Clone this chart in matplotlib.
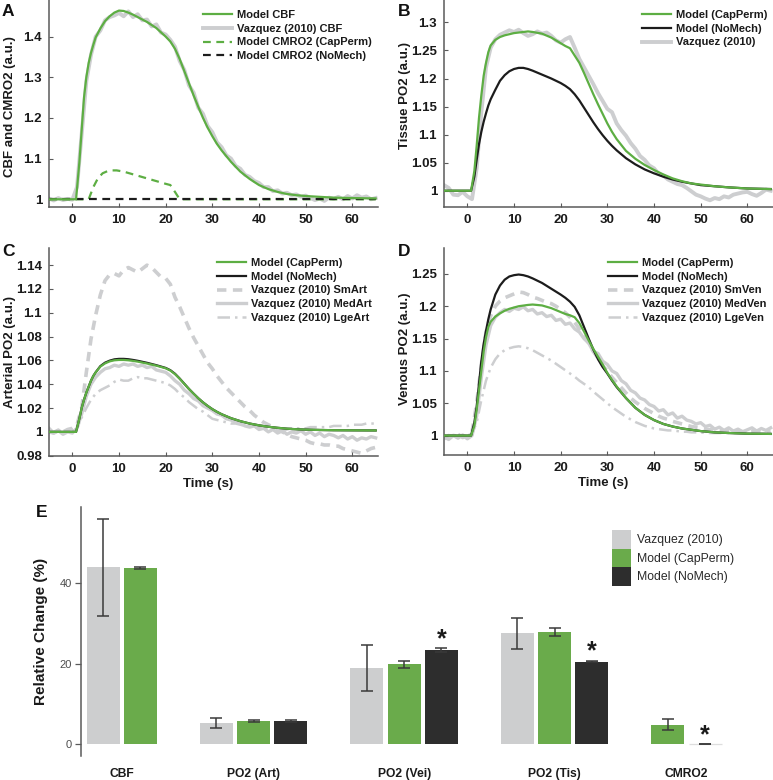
"""Recreate the CBF / PO2 time-course panels (A-D) and the relative-change bars (E)."""
import matplotlib

matplotlib.use("Agg")  # headless
import matplotlib.pyplot as plt
import numpy as np
from matplotlib.patches import Patch
from matplotlib.ticker import FuncFormatter

# --------------------------------------------------------------------------- #
# Data
# --------------------------------------------------------------------------- #
# shared time grid for the smooth model curves (s)
t_model = [-5, 0, 0.8, 1.5, 2, 2.5, 3, 3.5, 4, 4.5, 5, 6, 7, 8, 9, 10, 11, 12, 13, 14,
           16, 18, 20, 21, 22, 23, 24, 25, 26, 27, 28, 29, 30, 31, 32, 34, 36, 38, 40,
           42, 44, 46, 48, 50, 53, 56, 60, 65]
# 1 s grid for the measured (Vazquez 2010) traces
t_data = list(range(-5, 66))

# Panel A
cbf_model = [1.0, 1.0, 1.0, 1.09, 1.17, 1.25, 1.30, 1.335, 1.36, 1.38, 1.398, 1.42, 1.438,
             1.45, 1.459, 1.464, 1.463, 1.459, 1.454, 1.448, 1.436, 1.421, 1.400, 1.388,
             1.37, 1.345, 1.315, 1.285, 1.255, 1.227, 1.200, 1.176, 1.155, 1.136, 1.12,
             1.092, 1.068, 1.05, 1.035, 1.025, 1.018, 1.013, 1.010, 1.008, 1.006, 1.004,
             1.003, 1.002]
cbf_vazquez = [1.002, 0.997, 1.003, 0.998, 1.001, 0.999, 1.03, 1.16, 1.29, 1.355, 1.40,
               1.415, 1.44, 1.448, 1.452, 1.458, 1.45, 1.462, 1.448, 1.455, 1.44, 1.442,
               1.425, 1.43, 1.41, 1.405, 1.392, 1.375, 1.34, 1.318, 1.28, 1.262, 1.225,
               1.21, 1.18, 1.165, 1.14, 1.128, 1.108, 1.10, 1.082, 1.075, 1.06, 1.055,
               1.045, 1.04, 1.03, 1.03, 1.02, 1.022, 1.014, 1.016, 1.01, 1.012, 1.006,
               1.009, 1.003, 0.998, 1.002, 0.996, 1.004, 1.001, 1.006, 1.0, 1.008, 1.002,
               1.01, 1.004, 1.007, 1.0, 1.003]
t_cmro2 = [-5, 3.5, 4.5, 5.5, 6.5, 7.5, 8.5, 9.5, 11, 14, 17, 20, 21, 22, 23, 65]
cmro2_capperm = [1.0, 1.0, 1.03, 1.052, 1.064, 1.069, 1.071, 1.071, 1.068, 1.058, 1.048,
                 1.038, 1.035, 1.018, 1.0, 1.0]
t_cmro2_nomech = [-5, 65]
cmro2_nomech = [1.0, 1.0]

# Panel B (tissue PO2)
tis_capperm = [1.0, 1.0, 1.0, 1.035, 1.08, 1.13, 1.17, 1.205, 1.228, 1.247, 1.259, 1.269,
               1.274, 1.277, 1.279, 1.281, 1.282, 1.283, 1.284, 1.283, 1.280, 1.273, 1.263,
               1.258, 1.254, 1.241, 1.228, 1.210, 1.191, 1.172, 1.154, 1.137, 1.120, 1.105,
               1.092, 1.071, 1.057, 1.046, 1.037, 1.029, 1.022, 1.017, 1.013, 1.011, 1.008,
               1.006, 1.004, 1.003]
tis_nomech = [1.0, 1.0, 1.0, 1.025, 1.055, 1.083, 1.105, 1.123, 1.138, 1.152, 1.163, 1.18,
              1.196, 1.206, 1.213, 1.217, 1.219, 1.219, 1.217, 1.214, 1.207, 1.200, 1.192,
              1.187, 1.181, 1.172, 1.161, 1.148, 1.135, 1.122, 1.110, 1.099, 1.089, 1.080,
              1.072, 1.058, 1.047, 1.038, 1.031, 1.025, 1.020, 1.016, 1.013, 1.010, 1.008,
              1.006, 1.004, 1.003]
tis_vazquez = [1.01, 1.005, 0.993, 0.992, 0.998, 0.99, 0.985, 1.04, 1.14, 1.22, 1.255,
               1.27, 1.278, 1.282, 1.286, 1.283, 1.287, 1.281, 1.276, 1.279, 1.284, 1.28,
               1.282, 1.276, 1.268, 1.264, 1.27, 1.274, 1.255, 1.235, 1.22, 1.205, 1.19,
               1.174, 1.16, 1.146, 1.14, 1.12, 1.108, 1.098, 1.085, 1.075, 1.062, 1.055,
               1.045, 1.04, 1.03, 1.027, 1.02, 1.016, 1.012, 1.01, 1.005, 0.999, 0.993,
               0.99, 0.986, 0.983, 0.987, 0.985, 0.99, 0.988, 0.993, 0.995, 0.997, 0.998,
               0.994, 0.991, 0.996, 1.002, 1.0]

# Panel C (arterial PO2)
art_capperm = [1.0, 1.0, 1.0, 1.011, 1.02, 1.027, 1.033, 1.038, 1.043, 1.047, 1.05, 1.0548,
               1.0575, 1.0592, 1.0601, 1.0604, 1.0604, 1.0601, 1.0596, 1.059, 1.0574,
               1.0556, 1.0534, 1.0515, 1.0485, 1.0446, 1.0403, 1.036, 1.032, 1.0282, 1.0248,
               1.0218, 1.0191, 1.0168, 1.0148, 1.0115, 1.009, 1.007, 1.0055, 1.0043, 1.0034,
               1.0027, 1.0022, 1.0019, 1.0016, 1.0014, 1.0013, 1.0012]
art_nomech = [1.0, 1.0, 1.0, 1.011, 1.02, 1.027, 1.033, 1.038, 1.043, 1.047, 1.05, 1.0552,
              1.0581, 1.0598, 1.0609, 1.0613, 1.0613, 1.061, 1.0604, 1.0597, 1.058, 1.056,
              1.0537, 1.0518, 1.0488, 1.0448, 1.0404, 1.036, 1.032, 1.0282, 1.0248, 1.0218,
              1.0191, 1.0168, 1.0148, 1.0115, 1.009, 1.007, 1.0055, 1.0043, 1.0034, 1.0027,
              1.0022, 1.0019, 1.0016, 1.0014, 1.0013, 1.0012]
art_small = [1.0, 0.999, 1.001, 1.0, 1.002, 1.003, 1.006, 1.02, 1.05, 1.078, 1.098, 1.115,
             1.127, 1.132, 1.133, 1.131, 1.136, 1.138, 1.136, 1.134, 1.137, 1.14, 1.138,
             1.134, 1.13, 1.129, 1.124, 1.113, 1.105, 1.096, 1.087, 1.079, 1.072, 1.065,
             1.058, 1.053, 1.047, 1.042, 1.037, 1.033, 1.029, 1.025, 1.021, 1.018, 1.014,
             1.011, 1.008, 1.006, 1.004, 1.002, 1.0, 0.998, 0.996, 0.995, 0.994, 0.993,
             0.991, 0.990, 0.99, 0.989, 0.989, 0.988, 0.988, 0.986, 0.985, 0.984, 0.983,
             0.982, 0.984, 0.986, 0.987]
art_medium = [1.003, 0.999, 1.001, 0.998, 1.0, 0.999, 1.003, 1.015, 1.03, 1.04, 1.046, 1.05,
              1.053, 1.054, 1.056, 1.055, 1.057, 1.056, 1.057, 1.055, 1.056, 1.054, 1.055,
              1.052, 1.051, 1.05, 1.047, 1.043, 1.04, 1.035, 1.032, 1.028, 1.026, 1.022,
              1.02, 1.018, 1.015, 1.014, 1.011, 1.01, 1.008, 1.007, 1.005, 1.004, 1.005,
              1.002, 1.003, 1.0, 1.002, 0.999, 1.001, 0.998, 1.0, 0.999, 1.001, 0.998, 1.0,
              0.997, 0.999, 0.996, 0.998, 0.997, 0.995, 0.997, 0.994, 0.996, 0.993, 0.995,
              0.994, 0.996, 0.995]
art_large = [1.001, 1.0, 1.002, 0.999, 1.001, 1.0, 1.003, 1.012, 1.02, 1.027, 1.032, 1.035,
             1.037, 1.039, 1.042, 1.044, 1.043, 1.043, 1.045, 1.046, 1.045, 1.045, 1.044,
             1.043, 1.042, 1.041, 1.039, 1.036, 1.032, 1.029, 1.025, 1.022, 1.019, 1.017,
             1.014, 1.011, 1.01, 1.009, 1.008, 1.007, 1.007, 1.006, 1.005, 1.005, 1.004,
             1.004, 1.003, 1.002, 1.002, 1.001, 1.001, 1.002, 1.003, 1.003, 1.003, 1.003,
             1.004, 1.004, 1.004, 1.004, 1.004, 1.005, 1.005, 1.005, 1.005, 1.006, 1.006,
             1.006, 1.007, 1.007, 1.007]

# Panel D (venous PO2)
ven_capperm = [1.0, 1.0, 1.0, 1.015, 1.04, 1.07, 1.1, 1.13, 1.152, 1.168, 1.176, 1.184,
               1.189, 1.193, 1.196, 1.198, 1.2, 1.201, 1.202, 1.2026, 1.2012, 1.197, 1.191,
               1.188, 1.186, 1.183, 1.174, 1.161, 1.147, 1.134, 1.122, 1.11, 1.097, 1.086,
               1.076, 1.058, 1.043, 1.032, 1.024, 1.018, 1.014, 1.011, 1.009, 1.007, 1.005,
               1.004, 1.003, 1.0026]
ven_nomech = [1.0, 1.0, 1.0, 1.02, 1.045, 1.08, 1.115, 1.142, 1.162, 1.18, 1.195, 1.218,
              1.232, 1.241, 1.246, 1.248, 1.249, 1.248, 1.246, 1.243, 1.236, 1.227, 1.218,
              1.213, 1.207, 1.199, 1.186, 1.168, 1.150, 1.133, 1.118, 1.106, 1.096, 1.085,
              1.075, 1.058, 1.043, 1.032, 1.024, 1.018, 1.014, 1.011, 1.009, 1.007, 1.005,
              1.004, 1.003, 1.0026]
ven_small = [0.995, 1.0, 0.998, 1.002, 0.997, 1.0, 1.005, 1.05, 1.11, 1.16, 1.185, 1.2,
             1.208, 1.213, 1.216, 1.219, 1.222, 1.221, 1.218, 1.214, 1.212, 1.209, 1.206,
             1.204, 1.2, 1.195, 1.19, 1.183, 1.175, 1.165, 1.155, 1.143, 1.13, 1.12, 1.108,
             1.1, 1.09, 1.082, 1.074, 1.066, 1.058, 1.052, 1.047, 1.042, 1.038, 1.034, 1.03,
             1.027, 1.025, 1.022, 1.02, 1.018, 1.016, 1.014, 1.013, 1.012, 1.01, 1.009,
             1.008, 1.008, 1.007, 1.007, 1.006, 1.006, 1.006, 1.005, 1.006, 1.005, 1.006,
             1.005, 1.006]
ven_medium = [0.998, 0.994, 1.0, 0.996, 1.001, 0.995, 1.0, 1.03, 1.09, 1.14, 1.17, 1.183,
              1.19, 1.195, 1.192, 1.197, 1.195, 1.199, 1.193, 1.195, 1.188, 1.19, 1.184,
              1.186, 1.178, 1.18, 1.172, 1.174, 1.165, 1.16, 1.15, 1.143, 1.13, 1.127,
              1.115, 1.11, 1.1, 1.096, 1.085, 1.08, 1.07, 1.066, 1.058, 1.055, 1.048, 1.045,
              1.038, 1.04, 1.032, 1.035, 1.027, 1.03, 1.024, 1.022, 1.018, 1.02, 1.014,
              1.016, 1.01, 1.013, 1.008, 1.012, 1.007, 1.01, 1.006, 1.009, 1.012, 1.007,
              1.011, 1.008, 1.012]
ven_large = [1.0, 0.999, 1.001, 1.0, 0.999, 1.0, 1.003, 1.02, 1.055, 1.085, 1.105, 1.118,
             1.127, 1.132, 1.135, 1.137, 1.138, 1.137, 1.135, 1.132, 1.128, 1.124, 1.12,
             1.116, 1.111, 1.106, 1.101, 1.096, 1.091, 1.085, 1.08, 1.075, 1.068, 1.062,
             1.056, 1.05, 1.044, 1.039, 1.034, 1.029, 1.025, 1.021, 1.018, 1.015, 1.013,
             1.011, 1.01, 1.009, 1.008, 1.008, 1.007, 1.006, 1.006, 1.005, 1.005, 1.005,
             1.004, 1.004, 1.004, 1.004, 1.004, 1.004, 1.004, 1.004, 1.004, 1.004, 1.003,
             1.003, 1.003, 1.003, 1.003]

# Panel E (relative change, %)
categories = ["CBF", "PO2 (Art)", "PO2 (Vei)", "PO2 (Tis)", "CMRO2"]
bar_series = ["Vazquez (2010)", "Model (CapPerm)", "Model (NoMech)"]
vazquez_pct = [43.9, 5.3, 19.0, 27.5, np.nan]
vazquez_err = [12.0, 1.3, 5.7, 3.85, np.nan]
capperm_pct = [43.7, 5.75, 19.8, 27.75, 4.9]
capperm_err = [0.2, 0.2, 0.95, 1.0, 1.4]
nomech_pct = [np.nan, 5.75, 23.4, 20.5, 0.0]
nomech_err = [np.nan, 0.2, 0.5, 0.2, 0.0]
nomech_significant = [False, False, True, True, True]

# --------------------------------------------------------------------------- #
# Style
# --------------------------------------------------------------------------- #
GREEN = "#5dae43"
BLACK = "#1c1c1c"
GREY_LINE = "#cdced0"
BAR_GREY = "#cdcecf"
BAR_GREEN = "#6aab4b"
BAR_BLACK = "#2d2d2d"
SPINE = "#5a5a5a"
NARROW = ["Liberation Sans Narrow", "Liberation Sans", "DejaVu Sans"]

plt.rcParams["font.family"] = ["Liberation Sans", "DejaVu Sans"]
plt.rcParams["font.weight"] = "bold"
plt.rcParams["axes.labelweight"] = "bold"

W, H = 773, 780


def fig_rect(x0, y0, x1, y1):
    """Pixel box (top-left origin) -> figure-fraction rect."""
    return [x0 / W, 1 - y1 / H, (x1 - x0) / W, (y1 - y0) / H]


def style_time_axes(ax, ylim, yticks, ylabel, label_y, xlabel=False):
    ax.set_xlim(-5, 65.5)
    ax.set_ylim(*ylim)
    ax.set_xticks([0, 10, 20, 30, 40, 50, 60])
    ax.set_yticks(yticks)
    ax.yaxis.set_major_formatter(FuncFormatter(lambda v, p: f"{v:g}"))
    for side in ("top", "right"):
        ax.spines[side].set_visible(False)
    for side in ("left", "bottom"):
        ax.spines[side].set_color(SPINE)
        ax.spines[side].set_linewidth(1.1)
    ax.tick_params(direction="in", length=3, width=0.8, color=SPINE,
                   labelsize=9.5, labelcolor="#1a1a1a", pad=5)
    ax.set_ylabel(ylabel, fontsize=9.5, color="#1a1a1a")
    ax.yaxis.set_label_coords(-0.099, label_y)
    if xlabel:
        ax.set_xlabel("Time (s)", fontsize=9.5, color="#1a1a1a", va="top")
        ax.xaxis.set_label_coords(0.483, -0.105)
    ax.patch.set_alpha(0)


def line_legend(ax, handles, x_anchor):
    ax.legend(handles=handles, loc="upper left", bbox_to_anchor=(x_anchor, 0.95),
              frameon=False, fontsize=8, handlelength=2.6, handletextpad=0.45,
              labelspacing=0.32, borderpad=0, borderaxespad=0, labelcolor="#1a1a1a")


fig = plt.figure(figsize=(W / 100, H / 100), dpi=100)

# ---- A ------------------------------------------------------------------- #
axA = fig.add_axes(fig_rect(49, 0, 378, 207))
hA_vz, = axA.plot(t_data, cbf_vazquez, color=GREY_LINE, lw=2.8, zorder=1,
                  label="Vazquez (2010) CBF")
hA_cp, = axA.plot(t_cmro2, cmro2_capperm, color=GREEN, lw=1.6, ls=(0, (3.5, 2.5)),
                  zorder=2, label="Model CMRO2 (CapPerm)")
hA_nm, = axA.plot(t_cmro2_nomech, cmro2_nomech, color=BLACK, lw=1.6, ls=(0, (3.5, 2.5)),
                  zorder=3, label="Model CMRO2 (NoMech)")
hA_cbf, = axA.plot(t_model, cbf_model, color=GREEN, lw=1.6, zorder=4, label="Model CBF")
style_time_axes(axA, (0.981, 1.49), [1, 1.1, 1.2, 1.3, 1.4], "CBF and CMRO2 (a.u.)", 0.485)
line_legend(axA, [hA_cbf, hA_vz, hA_cp, hA_nm], 0.468)

# ---- B ------------------------------------------------------------------- #
axB = fig.add_axes(fig_rect(444, 0, 773, 207))
hB_vz, = axB.plot(t_data, tis_vazquez, color=GREY_LINE, lw=2.8, zorder=1,
                  label="Vazquez (2010)")
hB_nm, = axB.plot(t_model, tis_nomech, color=BLACK, lw=1.6, zorder=2, label="Model (NoMech)")
hB_cp, = axB.plot(t_model, tis_capperm, color=GREEN, lw=1.6, zorder=3, label="Model (CapPerm)")
style_time_axes(axB, (0.971, 1.34), [1, 1.05, 1.1, 1.15, 1.2, 1.25, 1.3],
                "Tissue PO2 (a.u.)", 0.538)
line_legend(axB, [hB_cp, hB_nm, hB_vz], 0.602)

# ---- C ------------------------------------------------------------------- #
axC = fig.add_axes(fig_rect(49, 248, 378, 455.7))
hC_sm, = axC.plot(t_data, art_small, color=GREY_LINE, lw=2.6, ls=(0, (2.6, 1.8)), zorder=1,
                  label="Vazquez (2010) SmArt")
hC_md, = axC.plot(t_data, art_medium, color=GREY_LINE, lw=2.4, zorder=1,
                  label="Vazquez (2010) MedArt")
hC_lg, = axC.plot(t_data, art_large, color=GREY_LINE, lw=1.8, ls=(0, (5, 2, 1, 2)), zorder=1,
                  label="Vazquez (2010) LgeArt")
hC_nm, = axC.plot(t_model, art_nomech, color=BLACK, lw=1.6, zorder=2, label="Model (NoMech)")
hC_cp, = axC.plot(t_model, art_capperm, color=GREEN, lw=1.6, zorder=3, label="Model (CapPerm)")
style_time_axes(axC, (0.98, 1.1544), [0.98, 1, 1.02, 1.04, 1.06, 1.08, 1.1, 1.12, 1.14],
                "Arterial PO2 (a.u.)", 0.497, xlabel=True)
line_legend(axC, [hC_cp, hC_nm, hC_sm, hC_md, hC_lg], 0.51)

# ---- D ------------------------------------------------------------------- #
axD = fig.add_axes(fig_rect(444, 248, 773, 455))
hD_sm, = axD.plot(t_data, ven_small, color=GREY_LINE, lw=2.6, ls=(0, (2.6, 1.8)), zorder=1,
                  label="Vazquez (2010) SmVen")
hD_md, = axD.plot(t_data, ven_medium, color=GREY_LINE, lw=2.4, zorder=1,
                  label="Vazquez (2010) MedVen")
hD_lg, = axD.plot(t_data, ven_large, color=GREY_LINE, lw=1.8, ls=(0, (5, 2, 1, 2)), zorder=1,
                  label="Vazquez (2010) LgeVen")
hD_nm, = axD.plot(t_model, ven_nomech, color=BLACK, lw=1.6, zorder=2, label="Model (NoMech)")
hD_cp, = axD.plot(t_model, ven_capperm, color=GREEN, lw=1.6, zorder=3, label="Model (CapPerm)")
style_time_axes(axD, (0.97, 1.29), [1, 1.05, 1.1, 1.15, 1.2, 1.25],
                "Venous PO2 (a.u.)", 0.512, xlabel=True)
line_legend(axD, [hD_cp, hD_nm, hD_sm, hD_md, hD_lg], 0.4976)

# ---- E ------------------------------------------------------------------- #
axE = fig.add_axes(fig_rect(80.7, 507, 773, 755.7))
values = [np.array(vazquez_pct), np.array(capperm_pct), np.array(nomech_pct)]
errors = [np.array(vazquez_err), np.array(capperm_err), np.array(nomech_err)]
colors = [BAR_GREY, BAR_GREEN, BAR_BLACK]

# lay out the bars: consecutive slots inside a group, ~1 empty slot between groups
xpos = [np.full(len(categories), np.nan) for _ in bar_series]
centers = []
cursor = 0.0
for i in range(len(categories)):
    used = []
    for s in range(len(bar_series)):
        if not np.isnan(values[s][i]):
            xpos[s][i] = cursor
            used.append(cursor)
            cursor += 1.0
    centers.append(np.mean(used))
    cursor += 1.04

BAR_W = 0.886
for s, name in enumerate(bar_series):
    ok = ~np.isnan(values[s])
    edge = ["#dedede" if v == 0 else "none" for v in values[s][ok]]
    axE.bar(xpos[s][ok], values[s][ok], width=BAR_W, color=colors[s], edgecolor=edge,
            linewidth=0.9, yerr=errors[s][ok], zorder=2,
            error_kw=dict(ecolor="#3a3a3a", elinewidth=1.1, capsize=4.6, capthick=1.1),
            label=name)

for i, sig in enumerate(nomech_significant):
    if sig:
        top = nomech_pct[i] + nomech_err[i]
        axE.annotate("*", xy=(xpos[2][i], top), xytext=(0, 1.5), textcoords="offset points",
                     ha="center", va="baseline", fontsize=18, fontweight="bold",
                     color="#1a1a1a")

axE.set_xlim(-0.604, 17.98)
axE.set_ylim(-2.8, 58.8)
axE.set_yticks([0, 20, 40])
axE.set_xticks(centers)
axE.set_xticklabels(categories, fontsize=8.7, fontweight="bold", color="#1a1a1a")
for side in ("top", "right", "bottom"):
    axE.spines[side].set_visible(False)
axE.spines["left"].set_color(SPINE)
axE.spines["left"].set_linewidth(1.1)
axE.tick_params(axis="x", length=0, pad=9)
axE.tick_params(axis="y", direction="out", length=4.5, width=0.9, color=SPINE,
                labelcolor="#4d4d4d", pad=2)
for lab in axE.get_yticklabels():
    lab.set_fontfamily(NARROW)
    lab.set_fontweight("normal")
    lab.set_fontsize(8)
axE.set_ylabel("Relative Change (%)", fontsize=11, color="#1a1a1a")
axE.yaxis.set_label_coords(-0.047, 0.5)
axE.patch.set_alpha(0)

legE = axE.legend(handles=[Patch(facecolor=c, edgecolor="none") for c in colors],
                  labels=bar_series, loc="upper left", bbox_to_anchor=(0.7675, 0.9075),
                  frameon=False, prop=dict(family=NARROW, weight="normal", size=8.8),
                  handlelength=1.53, handleheight=1.96, handletextpad=0.5,
                  labelspacing=0, borderpad=0, borderaxespad=0, labelcolor="#2a2a2a")

# ---- panel letters -------------------------------------------------------- #
for letter, px, py in [("A", 2, 4), ("B", 398, 4), ("C", 2, 244), ("D", 398, 244),
                       ("E", 36, 505)]:
    fig.text(px / W, 1 - py / H, letter, ha="left", va="top", fontsize=12.5,
             fontweight="bold", color="#111111")

fig.savefig("out.png", dpi=100)
